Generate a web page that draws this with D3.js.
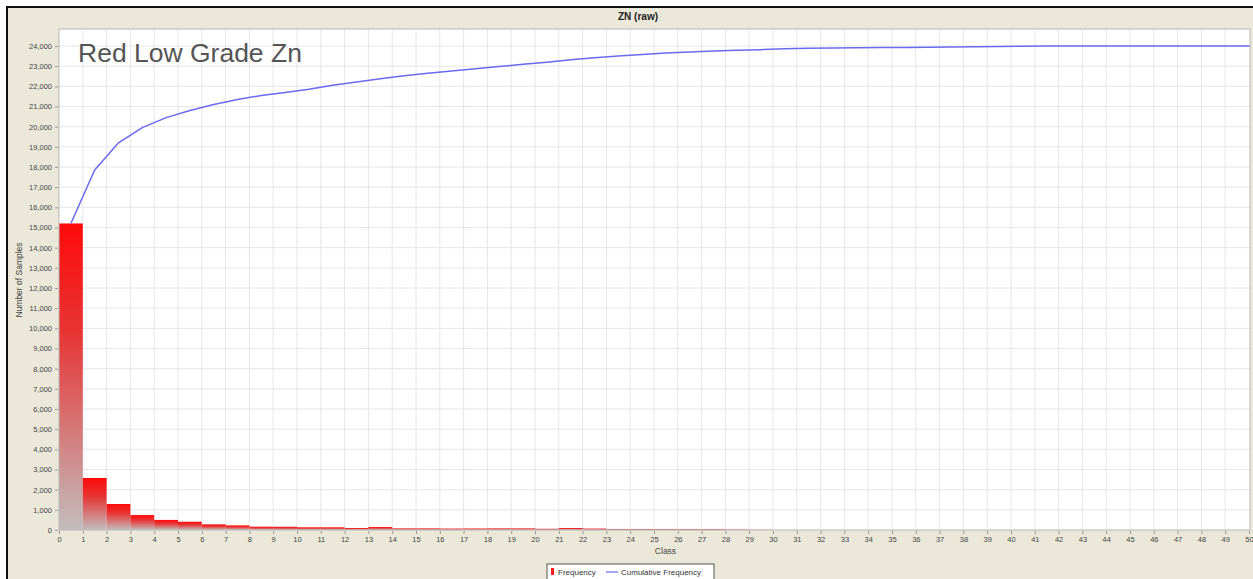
<!DOCTYPE html>
<html>
<head>
<meta charset="utf-8">
<script src="https://cdn.jsdelivr.net/npm/d3@7/dist/d3.min.js"></script>
<style>
  html, body { margin: 0; padding: 0; background: #ffffff; }
  svg { display: block; }
</style>
</head>
<body>
<svg id="chart" width="1253" height="579"></svg>
<script>
// ---- data ----
const title = "ZN (raw)";
const overlayLabel = "Red Low Grade Zn";
const classes = d3.range(0, 50);              // class bins 0..49 (each spans i..i+1)
const frequency = [
  15200, 2580, 1290, 740, 500, 410, 280, 230, 165, 160,
  135, 135, 100, 150, 80, 80, 70, 75, 80, 80,
  60, 100, 70, 50, 50, 45, 40, 40, 20, 10,
  0, 0, 0, 0, 0, 0, 0, 0, 0, 0,
  0, 0, 0, 0, 0, 0, 0, 0, 0, 0
];
// cumulative frequency at class centres 0.5 .. 50.5 (last point runs off the right edge)
const cumulative = [
  15200, 17850, 19200, 19950, 20450, 20800, 21100, 21350, 21550, 21700,
  21850, 22050, 22220, 22380, 22530, 22650, 22760, 22870, 22980, 23100,
  23200, 23320, 23420, 23500, 23580, 23650, 23700, 23750, 23790, 23820,
  23860, 23890, 23900, 23910, 23920, 23930, 23940, 23950, 23960, 23970,
  23990, 24000, 24000, 24000, 24000, 24000, 24000, 24000, 24000, 24000,
  24000
];
const xTickValues = d3.range(0, 51);
const yTickValues = d3.range(0, 24001, 1000);
const xAxisLabel = "Class";
const yAxisLabel = "Number of Samples";
const legendItems = ["Frequency", "Cumulative Frequency"];

// ---- layout ----
const svg = d3.select("#chart");
const W = 1253, H = 579;
const plot = { left: 59, right: 1250, top: 29, bottom: 530 };

svg.append("rect").attr("x", 0).attr("y", 0).attr("width", W).attr("height", H).attr("fill", "#ffffff");
svg.append("rect").attr("x", 7).attr("y", 7).attr("width", W - 6).attr("height", H - 6)
  .attr("fill", "#ebe8d9").attr("stroke", "#111").attr("stroke-width", 2);

const x = d3.scaleLinear().domain([0, 50]).range([plot.left, 1249]);
const y = d3.scaleLinear().domain([0, 24000]).range([plot.bottom, 46]);

// defs: bar gradient + clip
const defs = svg.append("defs");
const grad = defs.append("linearGradient").attr("id", "barGrad")
  .attr("x1", 0).attr("y1", 0).attr("x2", 0).attr("y2", 1);
grad.append("stop").attr("offset", "0%").attr("stop-color", "#ff0a0a");
grad.append("stop").attr("offset", "35%").attr("stop-color", "#e83434");
grad.append("stop").attr("offset", "100%").attr("stop-color", "#c2bdbd");
defs.append("clipPath").attr("id", "plotClip").append("rect")
  .attr("x", plot.left).attr("y", plot.top)
  .attr("width", plot.right - plot.left).attr("height", plot.bottom - plot.top);

// plot background
svg.append("rect").attr("x", plot.left).attr("y", plot.top)
  .attr("width", plot.right - plot.left).attr("height", plot.bottom - plot.top)
  .attr("fill", "#ffffff");

// gridlines
const grid = svg.append("g");
grid.selectAll("line.vg").data(xTickValues.filter(d => d > 0 && d < 50)).join("line")
  .attr("x1", d => x(d)).attr("x2", d => x(d))
  .attr("y1", plot.top).attr("y2", plot.bottom)
  .attr("stroke", "#e6e6e6").attr("stroke-width", 1);
grid.selectAll("line.hg").data(yTickValues.filter(d => d > 0)).join("line")
  .attr("x1", plot.left).attr("x2", plot.right)
  .attr("y1", d => y(d)).attr("y2", d => y(d))
  .attr("stroke", "#e6e6e6").attr("stroke-width", 1);

// bars
svg.append("g").selectAll("rect").data(classes.filter(i => frequency[i] > 0)).join("rect")
  .attr("x", i => x(i))
  .attr("y", i => y(frequency[i]))
  .attr("width", i => x(i + 1) - x(i))
  .attr("height", i => y(0) - y(frequency[i]))
  .attr("fill", "url(#barGrad)");

// cumulative line
const line = d3.line().x((d, i) => x(i + 0.5)).y(d => y(d));
svg.append("path").datum(cumulative).attr("d", line)
  .attr("clip-path", "url(#plotClip)")
  .attr("fill", "none").attr("stroke", "#6a6af0").attr("stroke-width", 1.5);

// plot border
svg.append("rect").attr("x", plot.left).attr("y", plot.top)
  .attr("width", plot.right - plot.left).attr("height", plot.bottom - plot.top)
  .attr("fill", "none").attr("stroke", "#b8b8b8").attr("stroke-width", 1);

// axes
const font = "'Liberation Sans', Arial, sans-serif";
const yAxis = d3.axisLeft(y).tickValues(yTickValues).tickFormat(d3.format(",")).tickSize(3).tickPadding(3);
const gy = svg.append("g").attr("transform", `translate(${plot.left - 1},0)`).call(yAxis);
gy.select(".domain").remove();
gy.selectAll(".tick line").attr("stroke", "#999");
gy.selectAll(".tick text").attr("fill", "#444").style("font-family", font).style("font-size", "7.5px");

const xAxis = d3.axisBottom(x).tickValues(xTickValues).tickFormat(d3.format("d")).tickSize(3).tickPadding(3);
const gx = svg.append("g").attr("transform", `translate(0,${plot.bottom + 1})`).call(xAxis);
gx.select(".domain").remove();
gx.selectAll(".tick line").attr("stroke", "#999");
gx.selectAll(".tick text").attr("fill", "#444").style("font-family", font).style("font-size", "7.5px");

// axis labels
svg.append("text").attr("x", (plot.left + plot.right) / 2 + 11).attr("y", 554)
  .attr("text-anchor", "middle").attr("fill", "#444")
  .style("font-family", font).style("font-size", "8.5px").text(xAxisLabel);
svg.append("text").attr("transform", `translate(22,${280}) rotate(-90)`)
  .attr("text-anchor", "middle").attr("fill", "#444")
  .style("font-family", font).style("font-size", "8.5px").text(yAxisLabel);

// title
svg.append("text").attr("x", 638).attr("y", 20).attr("text-anchor", "middle")
  .attr("fill", "#222").style("font-family", font).style("font-size", "10px")
  .style("font-weight", "bold").text(title);

// overlay label
svg.append("text").attr("x", 78).attr("y", 62).attr("fill", "#555")
  .style("font-family", font).style("font-size", "26.5px").text(overlayLabel);

// legend
const lg = svg.append("g");
lg.append("rect").attr("x", 547).attr("y", 564).attr("width", 167).attr("height", 16)
  .attr("fill", "#ffffff").attr("stroke", "#555").attr("stroke-width", 1);
lg.append("rect").attr("x", 551).attr("y", 568).attr("width", 3).attr("height", 7).attr("fill", "#ff1a1a");
lg.append("text").attr("x", 558).attr("y", 575).attr("fill", "#333")
  .style("font-family", font).style("font-size", "8px").text(legendItems[0]);
lg.append("line").attr("x1", 606).attr("x2", 618).attr("y1", 572).attr("y2", 572)
  .attr("stroke", "#6a6af0").attr("stroke-width", 1.2);
lg.append("text").attr("x", 621).attr("y", 575).attr("fill", "#333")
  .style("font-family", font).style("font-size", "8px").text(legendItems[1]);
</script>
</body>
</html>
